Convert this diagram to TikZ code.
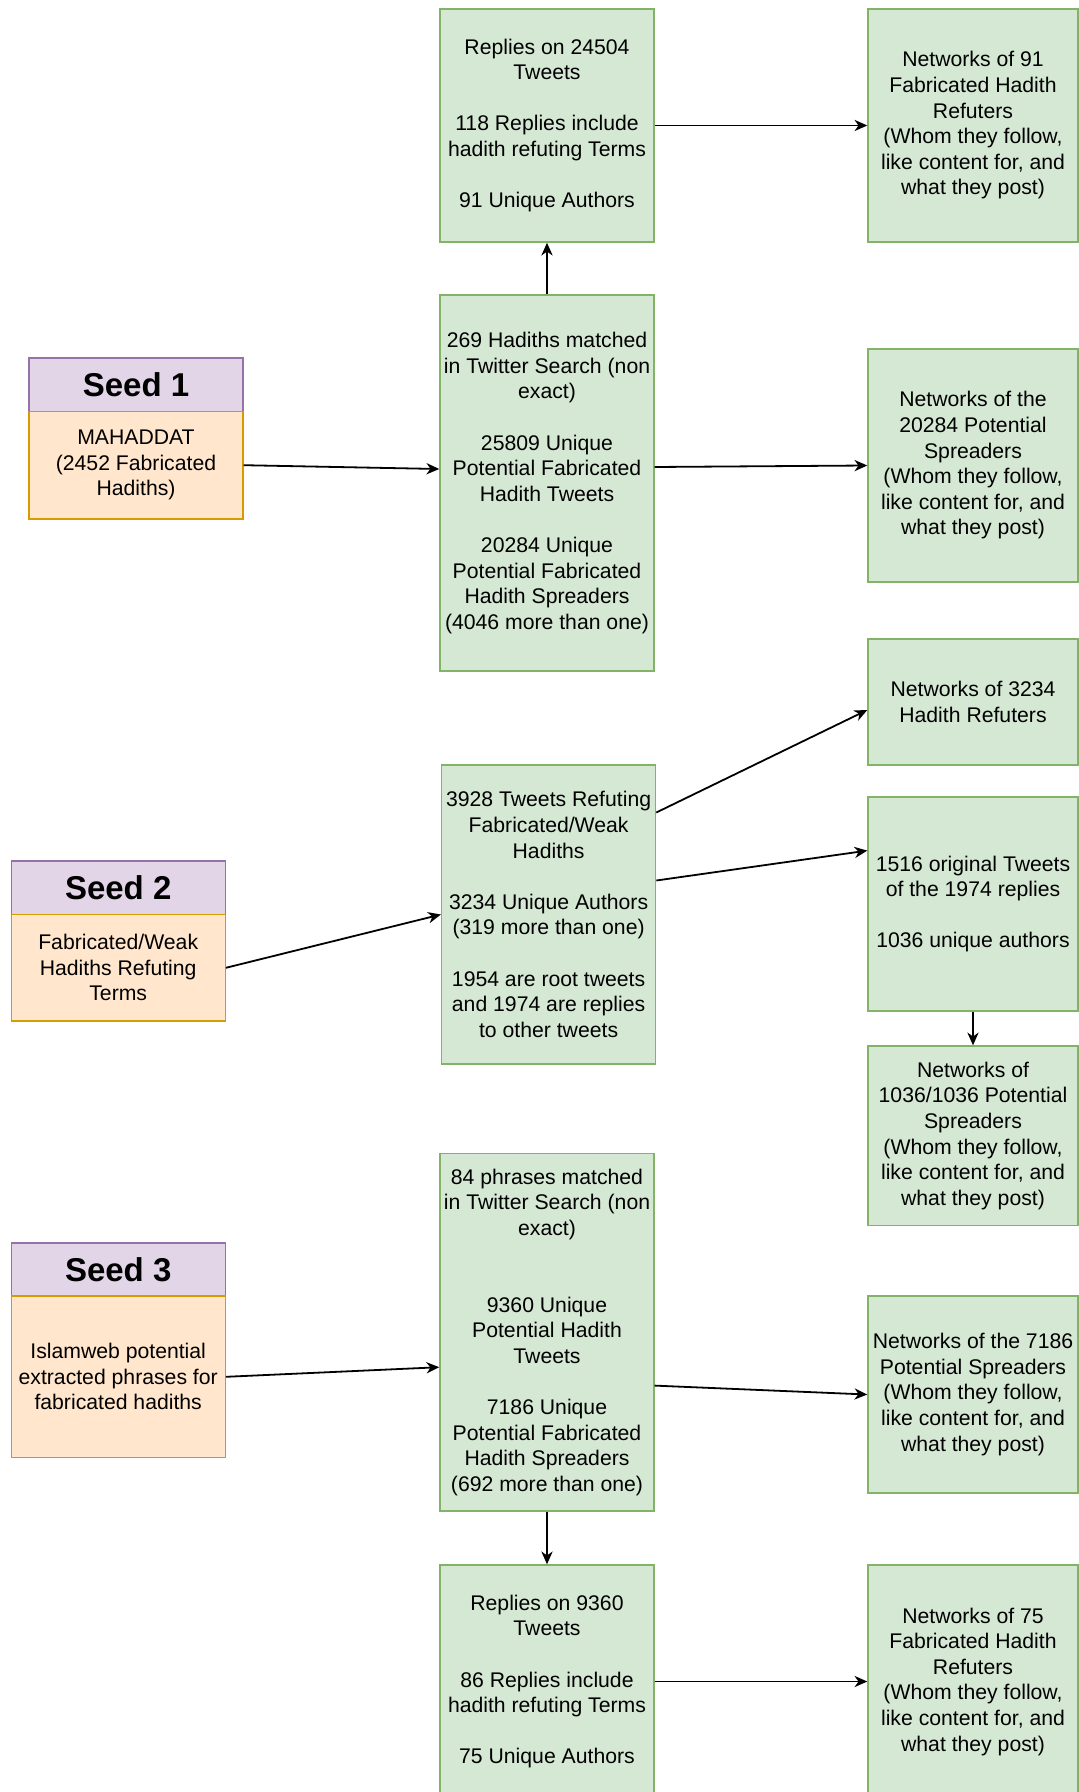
\documentclass[tikz,border=0pt]{standalone}
\usepackage{fontspec}
\setmainfont{Liberation Sans}
\usepackage{tikz}
\usetikzlibrary{arrows.meta}

\definecolor{boxfill}{HTML}{D5E8D4}
\definecolor{boxline}{HTML}{82B366}
\definecolor{headfill}{HTML}{E1D5E7}
\definecolor{headline}{HTML}{9673A6}
\definecolor{seedfill}{HTML}{FFE6CC}
\definecolor{seedline}{HTML}{D79B00}

\begin{document}
\begin{tikzpicture}[x=1pt, y=-1pt, >={Stealth[length=6.4pt,width=5.6pt,inset=2pt]},
  box/.style={draw=boxline, fill=boxfill, line width=0.7pt, align=center, inner xsep=0.5pt,
    font=\fontsize{10.6}{12.8}\selectfont},
  seedhead/.style={draw=headline, fill=headfill, line width=0.7pt,
    minimum width=107pt, minimum height=26.7pt, font=\fontsize{16.5}{19}\selectfont\bfseries},
  seedbody/.style={draw=seedline, fill=seedfill, line width=0.7pt, align=center, inner xsep=0.5pt,
    minimum width=107pt, font=\fontsize{10.6}{12.8}\selectfont}]
  \useasboundingbox (0,0) rectangle (539,896);

  % middle column
  \node[box, minimum width=107pt, minimum height=116.5pt] (rep1) at (273.5,62.75)
    {Replies on 24504\\Tweets\\[\baselineskip]118 Replies include\\hadith refuting Terms\\[\baselineskip]91 Unique Authors};
  \node[box, minimum width=107pt, minimum height=188pt] (hits1) at (273.5,241.5)
    {269 Hadiths matched\\in Twitter Search (non\\exact)\\[\baselineskip]25809 Unique\\Potential Fabricated\\Hadith Tweets\\[\baselineskip]20284 Unique\\Potential Fabricated\\Hadith Spreaders\\(4046 more than one)};
  \node[box, minimum width=107pt, minimum height=149.5pt] (hits2) at (274.3,457.25)
    {3928 Tweets Refuting\\Fabricated/Weak\\Hadiths\\[\baselineskip]3234 Unique Authors\\(319 more than one)\\[\baselineskip]1954 are root tweets\\and 1974 are replies\\to other tweets};
  \node[box, minimum width=107pt, minimum height=178.75pt] (hits3) at (273.5,666.1)
    {84 phrases matched\\in Twitter Search (non\\exact)\\[2\baselineskip]9360 Unique\\Potential Hadith\\Tweets\\[\baselineskip]7186 Unique\\Potential Fabricated\\Hadith Spreaders\\(692 more than one)};
  \node[box, minimum width=107pt, minimum height=116.5pt] (rep3) at (273.5,840.75)
    {Replies on 9360\\Tweets\\[\baselineskip]86 Replies include\\hadith refuting Terms\\[\baselineskip]75 Unique Authors};

  % right column
  \node[box, minimum width=105pt, minimum height=116.5pt] (net1) at (486.5,62.75)
    {Networks of 91\\Fabricated Hadith\\Refuters\\(Whom they follow,\\like content for, and\\what they post)};
  \node[box, minimum width=105pt, minimum height=116.5pt] (net2) at (486.5,232.75)
    {Networks of the\\20284 Potential\\Spreaders\\(Whom they follow,\\like content for, and\\what they post)};
  \node[box, minimum width=105pt, minimum height=63pt] (net3) at (486.5,351)
    {Networks of 3234\\Hadith Refuters};
  \node[box, minimum width=105pt, minimum height=107pt] (orig) at (486.5,452)
    {1516 original Tweets\\of the 1974 replies\\[\baselineskip]1036 unique authors};
  \node[box, minimum width=105pt, minimum height=89.75pt] (net4) at (486.5,567.9)
    {Networks of\\1036/1036 Potential\\Spreaders\\(Whom they follow,\\like content for, and\\what they post)};
  \node[box, minimum width=105pt, minimum height=98.5pt] (net5) at (486.5,697.25)
    {Networks of the 7186\\Potential Spreaders\\(Whom they follow,\\like content for, and\\what they post)};
  \node[box, minimum width=105pt, minimum height=116.5pt] (net6) at (486.5,840.75)
    {Networks of 75\\Fabricated Hadith\\Refuters\\(Whom they follow,\\like content for, and\\what they post)};

  % seeds
  \node[seedhead] (s1head) at (68,192.4) {Seed 1};
  \node[seedbody, minimum height=53.75pt] (s1body) at (68,232.6)
    {MAHADDAT\\(2452 Fabricated\\Hadiths)};
  \node[seedhead] (s2head) at (59.1,443.9) {Seed 2};
  \node[seedbody, minimum height=53.2pt] (s2body) at (59.1,483.9)
    {Fabricated/Weak\\Hadiths Refuting\\Terms};
  \node[seedhead] (s3head) at (59.1,634.75) {Seed 3};
  \node[seedbody, minimum height=80.75pt] (s3body) at (59.1,688.4)
    {Islamweb potential\\extracted phrases for\\fabricated hadiths};

  \path[->, line width=0.9pt]
  (hits1) edge (rep1)
  (rep1) edge (net1)
  (s1body.east) edge ([yshift=7pt]hits1.west)
  ([yshift=8pt]hits1.east) edge (net2.west)
  ([yshift=51pt]hits2.east) edge ([yshift=-4pt]net3.west)
  ([yshift=17pt]hits2.east) edge ([yshift=26.7pt]orig.west)
  (s2body.east) edge (hits2.west)
  (orig) edge (net4)
  (s3body.east) edge ([yshift=-17.5pt]hits3.west)
  ([yshift=-26.7pt]hits3.east) edge (net5.west)
  (hits3) edge (rep3)
  (rep3) edge (net6)
  ;
\end{tikzpicture}
\end{document}
